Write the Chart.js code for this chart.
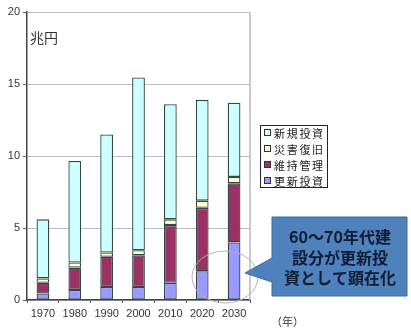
<!DOCTYPE html>
<html><head><meta charset="utf-8">
<script src="https://cdn.jsdelivr.net/npm/chart.js@4/dist/chart.umd.min.js"></script>
<style>html,body{margin:0;padding:0;background:#fff;}#wrap{width:411px;height:332px;position:relative;}</style>
</head><body><div id="wrap"><canvas id="c" width="411" height="332"></canvas></div>
<script>
const years = ['1970','1980','1990','2000','2010','2020','2030'];
const koushin = [0.45, 0.7, 0.9, 0.9, 1.2, 2.0, 4.0];   // 更新投資
const iji     = [0.75, 1.55, 2.1, 2.2, 4.0, 4.4, 4.1];  // 維持管理
const saigai  = [0.3, 0.35, 0.3, 0.35, 0.4, 0.5, 0.45]; // 災害復旧
const shinki  = [4.1, 7.05, 8.2, 12.0, 8.0, 7.0, 5.15]; // 新規投資
const yTicks = [0, 5, 10, 15, 20];
const seriesNames = ['更新投資','維持管理','災害復旧','新規投資'];
const unitLabel = '兆円';
const yearLabel = '（年）';
const calloutLines = ['60～70年代建','設分が更新投','資として顕在化'];

const FONT = "'Liberation Sans', Arial, sans-serif";
const JP = "'Noto Sans CJK JP', sans-serif";
const border = '#34484a';

const decor = {
  id: 'decor',
  afterDraw(chart) {
    const ctx = chart.ctx, a = chart.chartArea;
    ctx.save();
    // plot right border
    ctx.strokeStyle = '#b8b8b8'; ctx.lineWidth = 1.5;
    ctx.beginPath(); ctx.moveTo(a.right, a.top); ctx.lineTo(a.right, a.bottom); ctx.stroke();
    // unit label
    ctx.fillStyle = '#333'; ctx.font = '14px ' + JP; ctx.textBaseline = 'middle'; ctx.textAlign = 'left';
    ctx.fillText(unitLabel, a.left + 3, 38);
    // year label
    ctx.font = '11px ' + JP; ctx.fillText(yearLabel, 271, 322);
    // legend (reverse order)
    const ds = chart.data.datasets;
    ctx.fillStyle = '#fff'; ctx.strokeStyle = '#222'; ctx.lineWidth = 1;
    ctx.fillRect(260.5, 125.5, 67, 62); ctx.strokeRect(260.5, 125.5, 67, 62);
    ctx.font = '11px ' + JP;
    for (let i = 0; i < ds.length; i++) {
      const d = ds[ds.length - 1 - i];
      const y = 133 + i * 16;
      ctx.fillStyle = d.backgroundColor; ctx.strokeStyle = '#333';
      ctx.fillRect(264.5, y - 3.5, 6, 6); ctx.strokeRect(264.5, y - 3.5, 6, 6);
      ctx.fillStyle = '#222';
      let x = 274;
      for (const ch of d.label) { ctx.fillText(ch, x, y + 0.5); x += 12.7; }
    }
    // ellipse
    ctx.strokeStyle = '#b4b4b4'; ctx.lineWidth = 1;
    ctx.beginPath(); ctx.ellipse(225, 277, 33, 26, 0, 0, Math.PI * 2); ctx.stroke();
    // callout
    ctx.fillStyle = '#4f81bd'; ctx.strokeStyle = '#3d6a9f';
    ctx.beginPath();
    ctx.moveTo(272, 217); ctx.lineTo(407, 217); ctx.lineTo(407, 296); ctx.lineTo(272, 296);
    ctx.lineTo(272, 282); ctx.lineTo(245, 273); ctx.lineTo(272, 258); ctx.closePath();
    ctx.fill(); ctx.stroke();
    ctx.fillStyle = '#0f1c30'; ctx.font = 'bold 16px ' + JP; ctx.textAlign = 'center';
    calloutLines.forEach((t, i) => ctx.fillText(t, 340, 237 + i * 20.5));
    ctx.restore();
  }
};

const colors = ['#9999ff', '#993366', '#ffffcc', '#ccffff'];
const values = [koushin, iji, saigai, shinki];
new Chart(document.getElementById('c'), {
  type: 'bar',
  data: {
    labels: years,
    datasets: seriesNames.map((n, i) => ({
      label: n, data: values[i], backgroundColor: colors[i],
      borderColor: border, borderWidth: 1.3, borderSkipped: false,
      barPercentage: 0.4, categoryPercentage: 1.0
    }))
  },
  options: {
    responsive: false, animation: false,
    layout: { padding: { left: 0, top: 12, right: 161, bottom: 0 } },
    plugins: { legend: { display: false }, tooltip: { enabled: false } },
    scales: {
      x: {
        stacked: true,
        grid: { display: true, drawOnChartArea: false, offset: true, tickLength: 3, tickColor: '#555' },
        border: { color: '#444', width: 1.5 },
        ticks: { font: { size: 11, family: FONT }, color: '#333', padding: 4, maxRotation: 0 },
        afterFit(s) { s.height = 32; }
      },
      y: {
        stacked: true, min: 0, max: 20,
        afterBuildTicks(s) { s.ticks = yTicks.map(v => ({ value: v })); },
        grid: { color: '#c0c0c0', tickLength: 4, tickColor: '#666' },
        border: { color: '#444', width: 1.5 },
        ticks: { font: { size: 11, family: FONT }, color: '#333', padding: 3 },
        afterFit(s) { s.width = 27; }
      }
    }
  },
  plugins: [decor]
});
</script></body></html>
